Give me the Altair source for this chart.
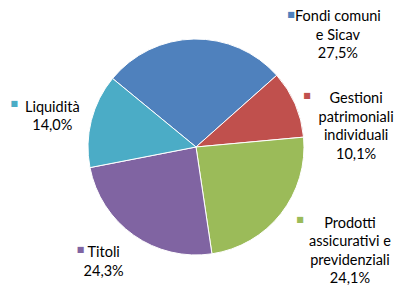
import math
import altair as alt
import pandas as pd

# ---- data ----
categories = [
    "Fondi comuni e Sicav",
    "Gestioni patrimoniali individuali",
    "Prodotti assicurativi e previdenziali",
    "Titoli",
    "Liquidità",
]
label_lines = [
    ["Fondi comuni", "e Sicav"],
    ["Gestioni", "patrimoniali", "individuali"],
    ["Prodotti", "assicurativi e", "previdenziali"],
    ["Titoli"],
    ["Liquidità"],
]
values = [27.5, 10.1, 24.1, 24.3, 14.0]
colors = ["#4F81BD", "#C0504D", "#9BBB59", "#8064A2", "#4BACC6"]

# ---- layout / style (not data) ----
START = math.radians(309.4)
R = 108
# per-label offsets (text block, legend key) from slice mid-angle on the rim
text_off = [(144, -18), (61, -1), (69, 14), (-30, 22), (-39, -9)]
key_off = [(97, -24), (12, -8), (19, 6), (-53, 15), (-77, -17)]

pct = [f"{v:.1f}".replace(".", ",") + "%" for v in values]
labels = ["\n".join(l + [p]) for l, p in zip(label_lines, pct)]

df = pd.DataFrame({
    "cat": categories,
    "value": values,
    "ord": list(range(len(values))),
    "label": labels,
})

base = alt.Chart(df).encode(
    theta=alt.Theta("value:Q", stack=True,
                    scale=alt.Scale(range=[START, START + 2 * math.pi])),
    order=alt.Order("ord:Q"),
)

color_enc = alt.Color("cat:N", scale=alt.Scale(domain=categories, range=colors),
                      legend=None)

pie = base.mark_arc(outerRadius=R, stroke="white", strokeWidth=1).encode(
    color=color_enc
)

layers = [pie]
for i in range(len(values)):
    tdx, tdy = text_off[i]
    kdx, kdy = key_off[i]
    layers.append(
        base.mark_text(radius=R, dx=tdx, dy=tdy, align="center",
                       baseline="alphabetic", lineBreak="\n", font="Lato",
                       fontSize=14.5, lineHeight=18.5, color="#000000").encode(
            text=alt.condition(alt.datum.ord == i, "label:N", alt.value(""))
        )
    )
    layers.append(
        base.mark_text(radius=R, dx=kdx, dy=kdy, align="center",
                       baseline="middle", font="DejaVu Sans",
                       fontSize=8).encode(
            text=alt.condition(alt.datum.ord == i, alt.value("■"), alt.value("")),
            color=color_enc,
        )
    )

chart = alt.layer(*layers).properties(
    width=376, height=278,
    padding={"left": 0, "top": 0, "right": 10, "bottom": 0},
    autosize=alt.AutoSizeParams(type="none"),
    background="white",
).configure_view(stroke=None)

chart.save("out.html", embed_options={"renderer": "svg", "actions": False})
